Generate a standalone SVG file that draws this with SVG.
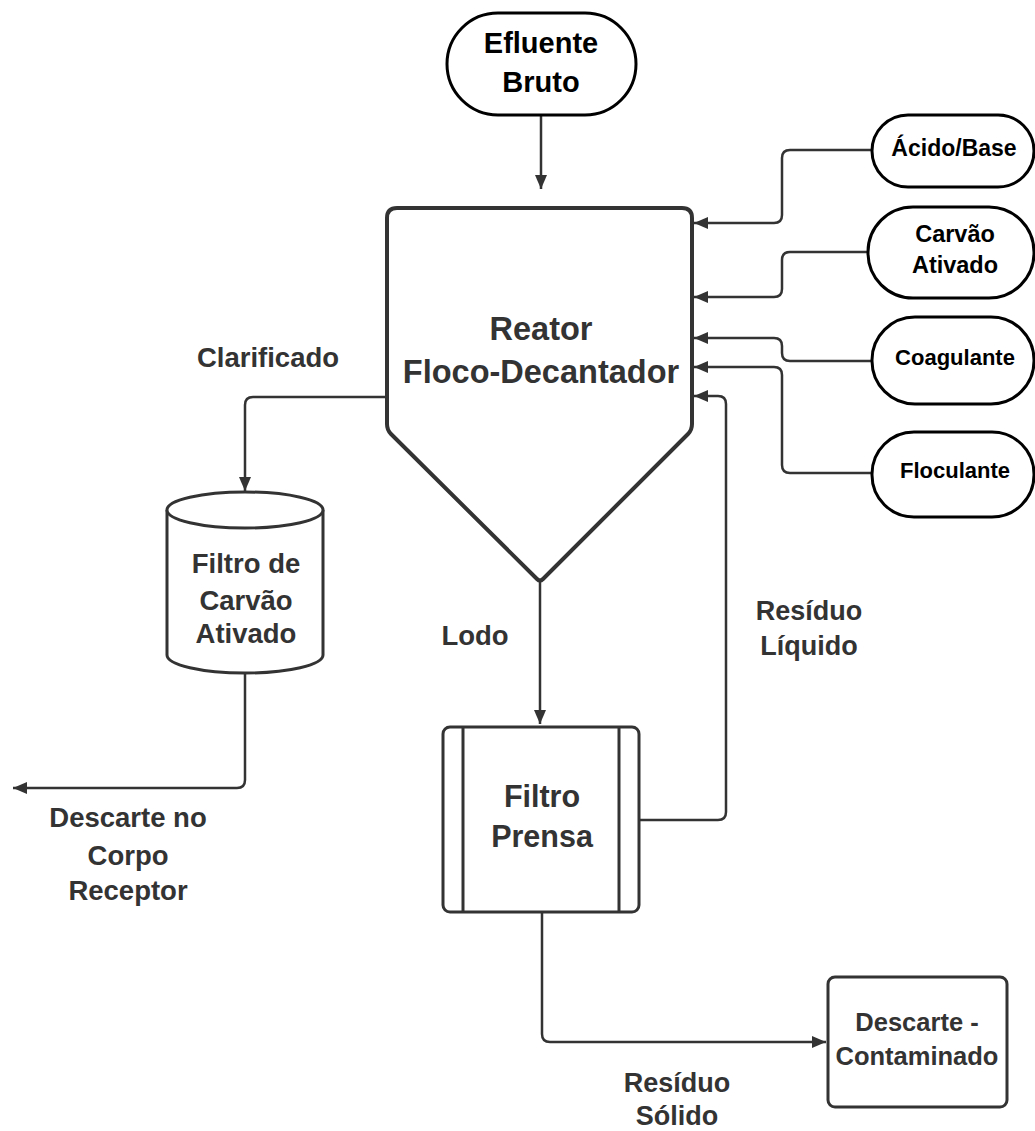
<svg xmlns="http://www.w3.org/2000/svg" width="1035" height="1131" viewBox="0 0 1035 1131">
<defs>
<style>
.t{font-family:"Liberation Sans",Arial,sans-serif;font-weight:bold;text-anchor:middle;fill:#333}
.tk{fill:#000}
.pill{fill:#fff;stroke:#000;stroke-width:3}
.shape{fill:#fff;stroke:#333;stroke-width:3}
.conn{fill:none;stroke:#333;stroke-width:2.5;stroke-linejoin:round}
</style>
<marker id="arr" markerUnits="userSpaceOnUse" markerWidth="16" markerHeight="14" refX="14" refY="6" orient="auto">
<path d="M0,0 L14,6 L0,12 z" fill="#333"/>
</marker>
</defs>
<rect width="1035" height="1131" fill="#fff"/>

<g id="connectors">
<path class="conn" d="M541,115 V189" marker-end="url(#arr)"/>
<path class="conn" d="M872,150 H790 Q782,150 782,158 V215 Q782,223 774,223 H694" marker-end="url(#arr)"/>
<path class="conn" d="M868,252 H790 Q782,252 782,260 V289 Q782,297 774,297 H694" marker-end="url(#arr)"/>
<path class="conn" d="M872,361 H790 Q782,361 782,353 V346 Q782,338 774,338 H694" marker-end="url(#arr)"/>
<path class="conn" d="M872,473 H790 Q782,473 782,465 V375 Q782,367 774,367 H694" marker-end="url(#arr)"/>
<path class="conn" d="M639,820 H718 Q726,820 726,812 V404 Q726,396 718,396 H694" marker-end="url(#arr)"/>
<path class="conn" d="M387,397 H253 Q245,397 245,405 V491" marker-end="url(#arr)"/>
<path class="conn" d="M245,673 V780 Q245,788 237,788 H13" marker-end="url(#arr)"/>
<path class="conn" d="M540,582 V724" marker-end="url(#arr)"/>
<path class="conn" d="M542,912 V1034 Q542,1042 550,1042 H826" marker-end="url(#arr)"/>
</g>

<g id="efluente-bruto">
<rect class="pill" x="447" y="13" width="189" height="102" rx="51"/>
<text class="t tk" x="541" y="53" font-size="29">Efluente</text>
<text class="t tk" x="541" y="92" font-size="29">Bruto</text>
</g>

<g id="reator">
<path fill="#fff" stroke="#333" stroke-width="4" stroke-linejoin="round" d="M387,218 Q387,208 397,208 H682 Q692,208 692,218 V424 Q692,430 688,434 L543,579 Q540,582 537,579 L391,434 Q387,430 387,424 Z"/>
<text class="t" x="541" y="340" font-size="32.5">Reator</text>
<text class="t" x="541" y="383" font-size="32.5">Floco-Decantador</text>
</g>

<g id="acido-base">
<rect class="pill" x="872" y="115" width="162" height="72" rx="36"/>
<text class="t tk" x="954" y="156" font-size="23">Ácido/Base</text>
</g>

<g id="carvao-ativado">
<rect class="pill" x="868" y="207" width="166" height="91" rx="45"/>
<text class="t tk" x="955" y="242" font-size="23.5">Carvão</text>
<text class="t tk" x="955" y="273" font-size="23.5">Ativado</text>
</g>

<g id="coagulante">
<rect class="pill" x="872" y="317" width="162" height="87" rx="43"/>
<text class="t tk" x="955" y="365" font-size="22">Coagulante</text>
</g>

<g id="floculante">
<rect class="pill" x="872" y="432" width="162" height="85" rx="42"/>
<text class="t tk" x="955" y="478" font-size="22">Floculante</text>
</g>

<g id="filtro-carvao">
<path class="shape" d="M167,510 V655 A78,18 0 0 0 323,655 V510"/>
<ellipse class="shape" cx="245" cy="510" rx="78" ry="18"/>
<text class="t" x="246" y="573" font-size="27.5">Filtro de</text>
<text class="t" x="246" y="610" font-size="27.5">Carvão</text>
<text class="t" x="246" y="643" font-size="27.5">Ativado</text>
</g>

<g id="filtro-prensa">
<rect class="shape" x="443" y="727" width="196" height="185" rx="7"/>
<line x1="463" y1="727" x2="463" y2="912" stroke="#333" stroke-width="3"/>
<line x1="619" y1="727" x2="619" y2="912" stroke="#333" stroke-width="3"/>
<text class="t" x="542" y="807" font-size="30.5">Filtro</text>
<text class="t" x="542" y="847" font-size="30.5">Prensa</text>
</g>

<g id="descarte-contaminado">
<rect class="shape" x="828" y="977" width="179" height="130" rx="7" stroke-width="2.5"/>
<text class="t" x="917" y="1031" font-size="25.5">Descarte -</text>
<text class="t" x="917" y="1065" font-size="25.5">Contaminado</text>
</g>

<g id="labels">
<text class="t" x="268" y="367" font-size="27.5">Clarificado</text>
<text class="t" x="475" y="645" font-size="27.5">Lodo</text>
<text class="t" x="809" y="620" font-size="27">Resíduo</text>
<text class="t" x="809" y="655" font-size="27">Líquido</text>
<text class="t" x="128" y="827" font-size="27.5">Descarte no</text>
<text class="t" x="128" y="865" font-size="27.5">Corpo</text>
<text class="t" x="128" y="900" font-size="27.5">Receptor</text>
<text class="t" x="677" y="1092" font-size="27">Resíduo</text>
<text class="t" x="677" y="1125" font-size="27">Sólido</text>
</g>
</svg>
